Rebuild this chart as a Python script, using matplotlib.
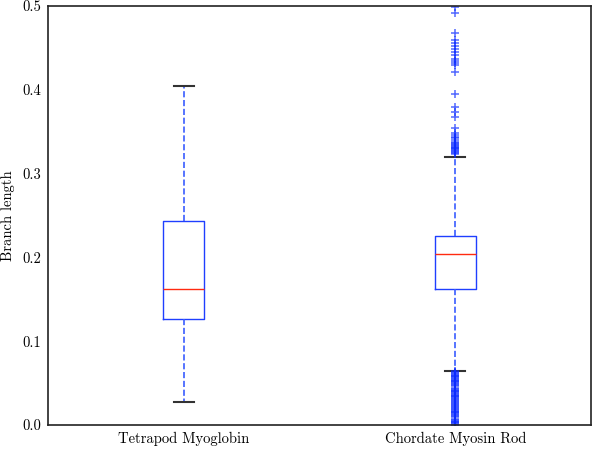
import matplotlib
matplotlib.use('Agg')
import matplotlib.pyplot as plt

plt.rcParams['font.family'] = 'serif'
plt.rcParams['font.serif'] = ['cmr10', 'DejaVu Serif']
plt.rcParams['mathtext.fontset'] = 'cm'
plt.rcParams['axes.formatter.use_mathtext'] = True

labels = ['Tetrapod Myoglobin', 'Chordate Myosin Rod']
q1 = [0.127, 0.162]
med = [0.162, 0.204]
q3 = [0.244, 0.225]
whislo = [0.027, 0.065]
whishi = [0.405, 0.320]

fliers_myo = []
fliers_rod = [
    0.000, 0.001, 0.002, 0.003, 0.004, 0.005, 0.006, 0.007, 0.010, 0.011,
    0.012, 0.013, 0.014, 0.015, 0.016, 0.017, 0.018, 0.019, 0.020, 0.022,
    0.023, 0.024, 0.025, 0.026, 0.028, 0.029, 0.030, 0.031, 0.032, 0.033,
    0.034, 0.035, 0.036, 0.037, 0.038, 0.039, 0.040, 0.041, 0.042, 0.043,
    0.044, 0.047, 0.048, 0.049, 0.050, 0.051, 0.052, 0.053, 0.054, 0.055,
    0.056, 0.057, 0.058, 0.059, 0.060, 0.061, 0.062, 0.063, 0.064,
    0.324, 0.325, 0.326, 0.327, 0.328, 0.329, 0.330, 0.331, 0.332, 0.333,
    0.334, 0.335, 0.336, 0.338, 0.340, 0.342, 0.344, 0.346, 0.349, 0.355,
    0.368, 0.373, 0.380, 0.395, 0.421, 0.430, 0.432, 0.434, 0.437, 0.441,
    0.445, 0.449, 0.452, 0.456, 0.460, 0.468, 0.492, 0.499,
]
fliers = [fliers_myo, fliers_rod]

stats = []
for i in range(len(labels)):
    stats.append({'label': labels[i], 'q1': q1[i], 'med': med[i], 'q3': q3[i],
                  'whislo': whislo[i], 'whishi': whishi[i], 'fliers': fliers[i]})

fig = plt.figure(figsize=(6, 4.49), dpi=100)
ax = fig.add_axes([0.08, 0.0535, 0.905, 0.933])

ax.bxp(stats, positions=[1, 2], widths=0.15,
       boxprops=dict(color='#1f3fff', linewidth=1.0),
       whiskerprops=dict(color='#3a5cff', linestyle='--', linewidth=1.2),
       capprops=dict(color='#333333', linewidth=1.5),
       medianprops=dict(color='#ff2a10', linewidth=1.0),
       flierprops=dict(marker='+', markeredgecolor='#0a2aff', alpha=0.7,
                       markersize=6, markeredgewidth=1.1, linestyle='none'))

ax.set_xlim(0.5, 2.5)
ax.set_ylim(0, 0.5)
ax.set_yticks([0.0, 0.1, 0.2, 0.3, 0.4, 0.5])
ax.set_yticklabels(['0.0', '0.1', '0.2', '0.3', '0.4', '0.5'])
ax.tick_params(length=0, labelsize=10.5, pad=5)
ax.set_ylabel('Branch length', fontsize=10.5)
ax.yaxis.set_label_coords(-0.061, 0.5)
for s in ax.spines.values():
    s.set_color('#222222')
    s.set_linewidth(1.2)

fig.savefig('out.png', dpi=100)
